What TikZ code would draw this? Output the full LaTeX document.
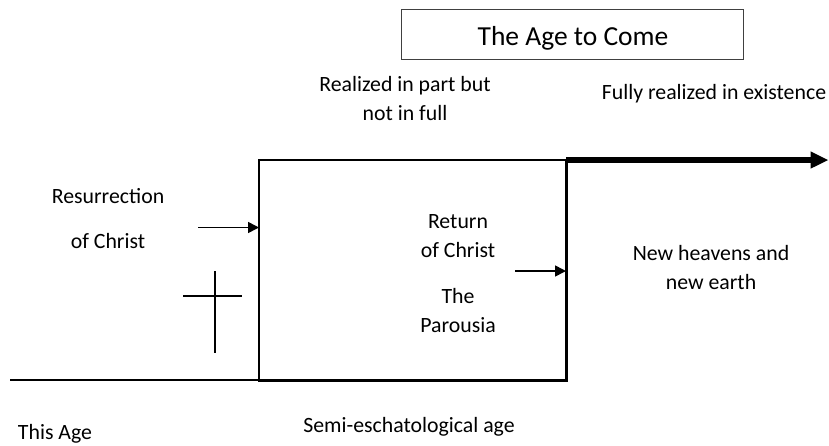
\documentclass[tikz,border=0pt]{standalone}
\usepackage{fontspec}
\setmainfont{Carlito}
\usetikzlibrary{arrows.meta}
\begin{document}
\begin{tikzpicture}[
			x=1pt, y=-1pt,
			label/.style={inner sep=0pt, anchor=base, font=\fontsize{21.8}{26}\selectfont},
			titlebox/.style={draw=black!75, line width=1pt, minimum width=342pt, minimum height=50pt},
			titletext/.style={inner sep=0pt, anchor=base, font=\fontsize{27.5}{32}\selectfont},
			edge/.style={line width=2.6pt},
			pointer/.style={line width=1.6pt, -{Triangle[length=11pt,width=11pt]}},
			]
			\useasboundingbox (0,0) rectangle (829,445);
			\node[titlebox] at (572,34.3) (title) {};
			\node[titletext] at (573,45) (titleA) {The Age to Come};
			\node[label] at (405,91) (partA) {Realized in part but};
			\node[label] at (405,120) (partB) {not in full};
			\node[label] at (714,99) (fully) {Fully realized in existence};
			\node[label] at (108,203) (resA) {Resurrection};
			\node[label] at (108,248) (resB) {of Christ};
			\node[label] at (458,228) (retA) {Return};
			\node[label] at (458,257) (retB) {of Christ};
			\node[label] at (458,303) (parA) {The};
			\node[label] at (458,332) (parB) {Parousia};
			\node[label] at (711,260) (newA) {New heavens and};
			\node[label] at (711,289) (newB) {new earth};
			\node[label] at (55,439) (thisage) {This Age};
			\node[label] at (409,432) (semi) {Semi-eschatological age};
			\coordinate (start) at (10,380);
			\coordinate (bl) at (259,380);
			\coordinate (tl) at (259,160);
			\coordinate (tr) at (566,160);
			\coordinate (br) at (566,380);
			\coordinate (end) at (828.5,160);
			\coordinate (resfrom) at (198,227.5);
			\coordinate (retfrom) at (515,271);
			\draw[edge, line width=2.2pt] (start) -- (bl);
			\draw[edge, line cap=rect] (bl) -- (tl) -- (tr);
			\draw[edge, line width=3pt, line cap=rect] (bl) -- (br) -- (tr);
			\draw[line width=6pt, -{Triangle[length=18pt,width=16pt]}] (tr) -- (end);
			\draw[pointer] (resfrom) -- (tl |- resfrom);
			\draw[pointer] (retfrom) -- (br |- retfrom);
			% cross
			\draw[line width=2.6pt] (215,271) -- (215,353);
			\draw[line width=2.6pt] (183,296) -- (242,296);
		\end{tikzpicture}
\end{document}
